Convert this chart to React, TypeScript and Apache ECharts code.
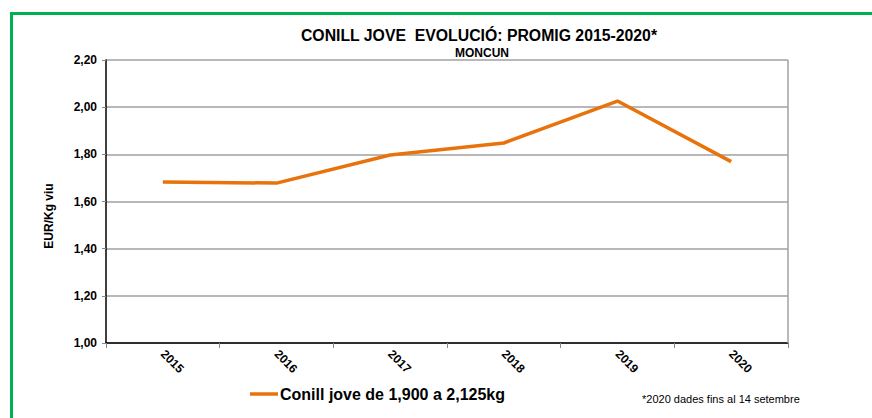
import React, { useEffect, useRef } from "react";
import * as echarts from "echarts";

const years = ["2015", "2016", "2017", "2018", "2019", "2020"];
const prices = [1.683, 1.678, 1.797, 1.848, 2.026, 1.769];
const seriesName = "Conill jove de 1,900 a 2,125kg";
const titleText = "CONILL JOVE  EVOLUCIÓ: PROMIG 2015-2020*";
const subtitleText = "MONCUN";
const yAxisName = "EUR/Kg viu";
const noteText = "*2020 dades fins al 14 setembre";

export default function App() {
  const ref = useRef<HTMLDivElement>(null);
  useEffect(() => {
    if (!ref.current) return;
    const chart = echarts.init(ref.current, null, { renderer: "svg" });
    chart.setOption({
      animation: false,
      backgroundColor: "#ffffff",
      textStyle: { fontFamily: "Liberation Sans, Arial, sans-serif" },
      title: [
        {
          text: titleText,
          left: 474,
          top: 22,
          textAlign: "center",
          textStyle: { fontSize: 15.8, fontWeight: "bold", color: "#000" },
        },
        {
          text: subtitleText,
          left: 477,
          top: 42,
          textAlign: "center",
          textStyle: { fontSize: 12, fontWeight: "bold", color: "#000" },
        },
      ],
      legend: {
        left: 250,
        top: 386,
        padding: 0,
        itemWidth: 28,
        itemHeight: 3.5,
        itemGap: 4,
        icon: "rect",
        textStyle: { fontSize: 16, fontWeight: "bold", color: "#000", padding: [0, 0, 0, -3] },
        data: [{ name: seriesName, icon: "rect" }],
      },
      grid: { left: 106, top: 60, right: 84, bottom: 75, containLabel: false },
      xAxis: {
        type: "category",
        data: years,
        boundaryGap: true,
        axisLine: { lineStyle: { color: "#000", width: 1.5 } },
        axisTick: { show: true, length: 5, lineStyle: { color: "#888" } },
        axisLabel: {
          rotate: -45,
          fontSize: 12,
          fontWeight: "bold",
          color: "#000",
          margin: 9,
          fontFamily: "Liberation Sans, Arial, sans-serif",
        },
      },
      yAxis: {
        type: "value",
        min: 1,
        max: 2.2,
        interval: 0.2,
        axisLine: { show: true, lineStyle: { color: "#000", width: 1.5 } },
        axisTick: { show: true, length: 4, lineStyle: { color: "#888" } },
        axisLabel: {
          fontSize: 12,
          fontWeight: "bold",
          color: "#000",
          margin: 9,
          formatter: (v: number) => v.toFixed(2).replace(".", ","),
        },
        splitLine: { show: true, lineStyle: { color: "#a0a0a0", width: 1.5 } },
      },
      series: [
        {
          name: seriesName,
          type: "line",
          data: prices,
          symbol: "none",
          lineStyle: { color: "#e8730c", width: 3.5 },
          itemStyle: { color: "#e8730c" },
        },
      ],
      graphic: [
        {
          type: "line",
          shape: { x1: 788, y1: 60, x2: 788, y2: 343 },
          style: { stroke: "#a0a0a0", lineWidth: 1.5 },
          z: 5,
        },
        {
          type: "rect",
          shape: { x: 11.5, y: 13.5, width: 900, height: 500 },
          style: { fill: "none", stroke: "#00b050", lineWidth: 3 },
          z: 10,
        },
        {
          type: "text",
          x: 49,
          y: 216,
          rotation: Math.PI / 2,
          style: {
            text: yAxisName,
            fontSize: 12,
            fontWeight: "bold",
            fill: "#000",
            align: "center",
            verticalAlign: "middle",
            fontFamily: "Liberation Sans, Arial, sans-serif",
          },
        },
        {
          type: "text",
          x: 642,
          y: 393,
          style: {
            text: noteText,
            fontSize: 11,
            fill: "#000",
            fontFamily: "Liberation Sans, Arial, sans-serif",
          },
        },
      ],
    });
    return () => chart.dispose();
  }, []);
  return (
    <div
      ref={ref}
      style={{ position: "fixed", left: 0, top: 0, width: 872, height: 418 }}
    />
  );
}
